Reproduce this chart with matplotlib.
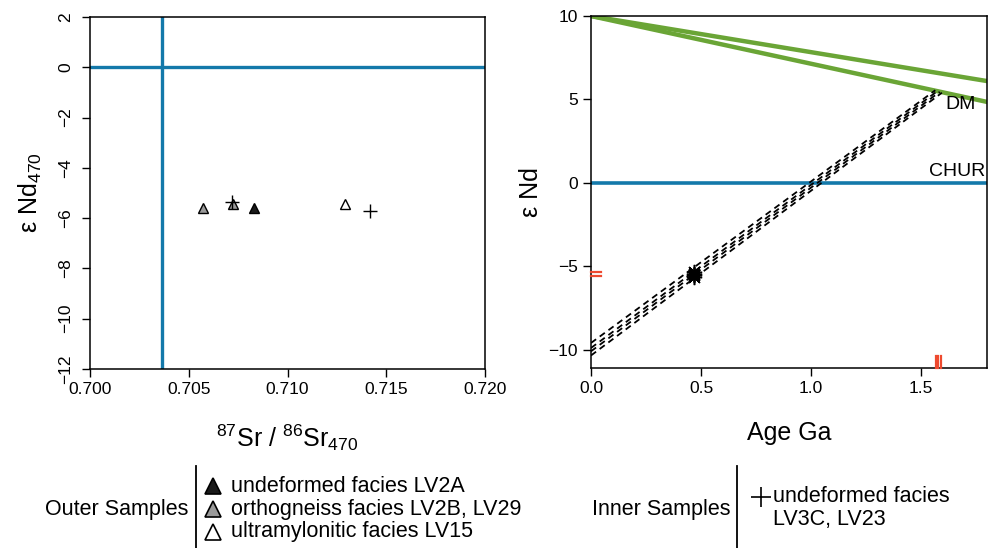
import matplotlib
matplotlib.use("Agg")
import matplotlib.pyplot as plt
from matplotlib.lines import Line2D

plt.rcParams['font.family'] = ['Liberation Sans', 'DejaVu Sans']
plt.rcParams['mathtext.fontset'] = 'custom'
plt.rcParams['mathtext.rm'] = 'Liberation Sans'
plt.rcParams['mathtext.it'] = 'Liberation Sans:italic'
plt.rcParams['axes.unicode_minus'] = True

# Sr-Nd data at 470 Ma
outer_sr = [0.7083, 0.7057, 0.70725, 0.7129]
outer_nd = [-5.6, -5.6, -5.45, -5.42]
outer_fill = ['#1a1a1a', '#9a9a9a', '#9a9a9a', 'white']
inner_sr = [0.7072, 0.7142]
inner_nd = [-5.35, -5.7]
sr_bulk_earth = 0.70365
chur = 0.0

# Nd evolution lines: eps Nd at present and at the model age (TDM)
nd_t0 = [-9.6, -9.9, -10.1, -10.35]
tdm = [1.565, 1.575, 1.585, 1.595]
nd_tdm = [5.55, 5.5, 5.45, 5.4]
age_sample = 0.47
nd_sample = [-5.35, -5.45, -5.55, -5.65]

# depleted mantle curves (present value and value at 1.8 Ga)
dm_age = [0.0, 1.8]
dm_upper = [10.0, 6.1]
dm_lower = [10.0, 4.85]

# rug marks
rug_nd = [-5.35, -5.6]
rug_age = [1.568, 1.578, 1.592]

blue = '#1479aa'
green = '#6aa536'
red = '#ee4a2f'

fig = plt.figure(figsize=(9.9, 5.48), dpi=100)
ax1 = fig.add_axes([90 / 990, 1 - 369 / 548, 395 / 990, 352 / 548])
ax2 = fig.add_axes([591 / 990, 1 - 368 / 548, 396 / 990, 352 / 548])

# ---- left panel: eps Nd vs 87Sr/86Sr
ax1.axhline(chur, color=blue, lw=2.4, zorder=1)
ax1.axvline(sr_bulk_earth, color=blue, lw=2.4, zorder=1)
for x, y, c in zip(outer_sr, outer_nd, outer_fill):
    ax1.plot(x, y, marker='^', ms=7.5, mfc=c, mec='black', mew=1.0, ls='none', zorder=3)
ax1.plot(inner_sr, inner_nd, marker='+', ms=10, color='black', mew=1.0, ls='none', zorder=4)
ax1.set_xlim(0.700, 0.720)
ax1.set_ylim(-12, 2)
ax1.set_xticks([0.700, 0.705, 0.710, 0.715, 0.720])
ax1.set_xticklabels(['0.700', '0.705', '0.710', '0.715', '0.720'])
ax1.set_yticks(range(-12, 3, 2))
for lab in ax1.get_yticklabels():
    lab.set_rotation(90)
    lab.set_va('center')
ax1.tick_params(axis='y', pad=6)
ax1.set_xlabel(r'$\mathregular{^{87}}$Sr / $\mathregular{^{86}}$Sr$\mathregular{_{470}}$',
               fontsize=18, labelpad=18)
ax1.set_ylabel(r'ε Nd$\mathregular{_{470}}$', fontsize=18, labelpad=10)

# ---- right panel: eps Nd vs age
ax2.plot(dm_age, dm_upper, color=green, lw=3.2, zorder=2)
ax2.plot(dm_age, dm_lower, color=green, lw=3.2, zorder=2)
ax2.axhline(chur, color=blue, lw=2.6, zorder=1)
for a, b, t in zip(nd_t0, nd_tdm, tdm):
    ax2.plot([0, t], [a, b], color='black', lw=1.3, ls=(0, (3.5, 2.5)), zorder=3)
ax2.plot([age_sample] * len(nd_sample), nd_sample, ls='none', marker=(8, 2, 0),
         ms=11, mew=1.1, color='black', zorder=4)
for v in rug_nd:
    ax2.plot([0, 0.045], [v, v], color=red, lw=1.6, clip_on=False, zorder=5)
for v in rug_age:
    ax2.plot([v, v], [-11.1, -10.4], color=red, lw=1.6, clip_on=False, zorder=5)
ax2.text(1.75, 4.7, 'DM', fontsize=14, ha='right', va='center')
ax2.text(1.79, 0.7, 'CHUR', fontsize=14, ha='right', va='center')
ax2.set_xlim(0, 1.8)
ax2.set_ylim(-11.1, 10)
ax2.set_xticks([0.0, 0.5, 1.0, 1.5])
ax2.set_yticks([-10, -5, 0, 5, 10])
ax2.set_xlabel('Age Ga', fontsize=18, labelpad=18)
ax2.set_ylabel('ε Nd', fontsize=18, labelpad=4)

for ax in (ax1, ax2):
    ax.tick_params(direction='out', length=6, width=1, labelsize=12.5, color='black')
    for s in ax.spines.values():
        s.set_linewidth(1.1)

# ---- legend blocks under the panels
leg = fig.add_axes([0, 0, 1, 1])
leg.set_xlim(0, 990)
leg.set_ylim(548, 0)
leg.axis('off')

leg.text(188, 509, 'Outer Samples', fontsize=15.5, ha='right', va='center')
leg.add_line(Line2D([196, 196], [466, 548], color='black', lw=1.3))
outer_labels = ['undeformed facies LV2A', 'orthogneiss facies LV2B, LV29',
                'ultramylonitic facies LV15']
outer_legend_fill = ['#1a1a1a', '#9a9a9a', 'white']
for i, (lab, c) in enumerate(zip(outer_labels, outer_legend_fill)):
    y = 486 + 23 * i
    leg.plot(213, y, marker='^', ms=12, mfc=c, mec='black', mew=1.2)
    leg.text(231, y, lab, fontsize=15.5, ha='left', va='center')

leg.text(730, 509, 'Inner Samples', fontsize=15.5, ha='right', va='center')
leg.add_line(Line2D([737, 737], [466, 548], color='black', lw=1.3))
leg.plot(761, 497, marker='+', ms=15, mew=1.2, color='black')
leg.text(773, 497, 'undeformed facies', fontsize=15.5, ha='left', va='center')
leg.text(773, 520, 'LV3C, LV23', fontsize=15.5, ha='left', va='center')

fig.savefig('out.png', dpi=100)
